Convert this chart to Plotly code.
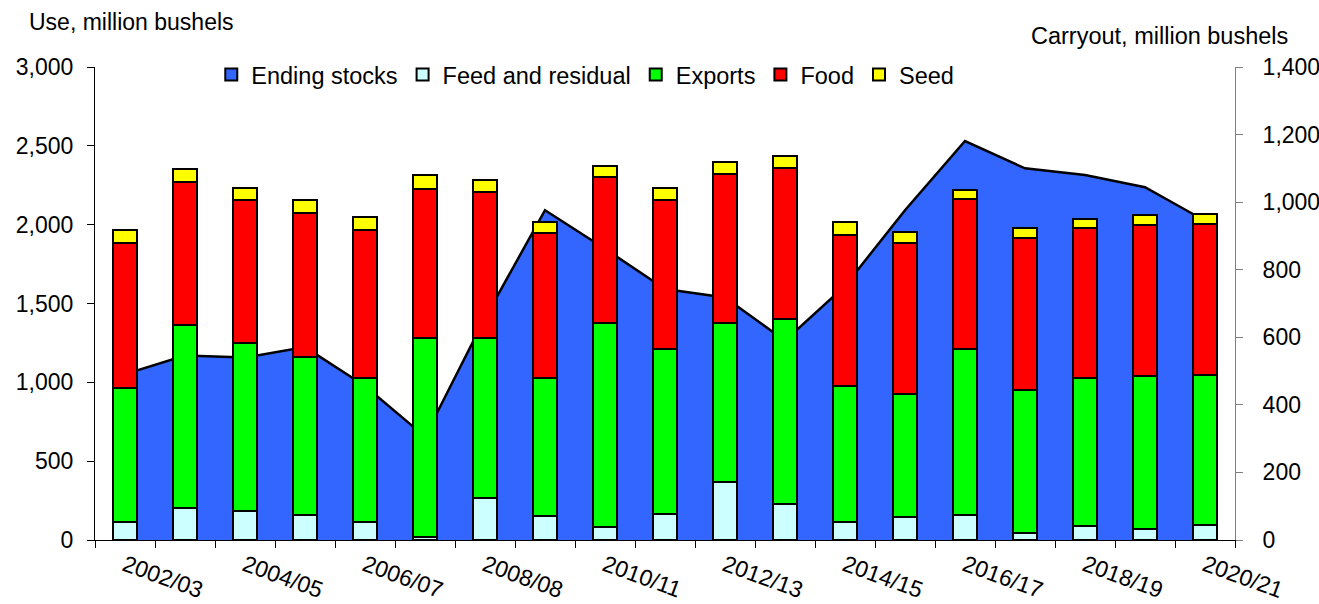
import plotly.graph_objects as go

years = ["2002/03", "2003/04", "2004/05", "2005/06", "2006/07", "2007/08", "2008/09",
         "2009/10", "2010/11", "2011/12", "2012/13", "2013/14", "2014/15", "2015/16",
         "2016/17", "2017/18", "2018/19", "2019/20", "2020/21"]
tick_labels = ["2002/03", "2004/05", "2006/07", "2008/08", "2010/11",
               "2012/13", "2014/15", "2016/17", "2018/19", "2020/21"]
feed = [116, 203, 181, 157, 117, 16, 265, 150, 85, 162, 365, 228, 113, 149, 161, 47, 88, 70, 95]
exports = [850, 1158, 1066, 1003, 909, 1263, 1015, 879, 1291, 1051, 1012, 1176, 864, 778, 1051, 906, 937, 969, 950]
food = [919, 912, 910, 917, 938, 948, 927, 919, 926, 941, 945, 955, 958, 957, 949, 964, 955, 962, 962]
seed = [84, 80, 78, 78, 82, 88, 78, 69, 71, 76, 73, 77, 79, 67, 61, 63, 59, 60, 60]
stocks = [491, 546, 540, 571, 456, 306, 657, 976, 862, 743, 718, 590, 752, 976, 1181, 1100, 1080, 1044, 945]

FONT = "Liberation Sans, Arial, sans-serif"
STOCK_COLOR = "#3366FF"
idx = list(range(len(years)))
tick_idx = [years.index(t) if t in years else years.index("2008/09") for t in tick_labels]

fig = go.Figure()
# ending stocks area (right axis, drawn underneath the bars)
fig.add_trace(go.Scatter(
    x=idx, y=stocks, name="Ending stocks", mode="lines", fill="tozeroy",
    fillcolor=STOCK_COLOR, line=dict(color="black", width=2.5), yaxis="y",
    hovertext=years, showlegend=False,
))
# legend key for the area (square swatch like the original)
fig.add_trace(go.Bar(
    x=[None], y=[None], name="Ending stocks", yaxis="y", legendrank=1,
    marker=dict(color=STOCK_COLOR, line=dict(color="black", width=2)),
))
bar_specs = [("Feed and residual", feed, "#CCFFFF"),
             ("Exports", exports, "#00FF00"),
             ("Food", food, "#FF0000"),
             ("Seed", seed, "#FFFF00")]
for k, (name, vals, col) in enumerate(bar_specs):
    fig.add_trace(go.Bar(
        x=idx, y=vals, name=name, yaxis="y2", width=0.4, legendrank=k + 2,
        marker=dict(color=col, line=dict(color="black", width=2)),
        hovertext=years,
    ))

fig.update_layout(
    width=1319, height=604, autosize=False,
    margin=dict(l=95, r=84, t=67, b=64),
    paper_bgcolor="white", plot_bgcolor="white",
    barmode="stack",
    font=dict(family=FONT, size=23, color="black"),
    showlegend=True,
    legend=dict(orientation="h", traceorder="normal", x=0.102, xanchor="left",
                y=1.03, yanchor="top", font=dict(size=23.5), bgcolor="rgba(0,0,0,0)",
                itemwidth=30),
    xaxis=dict(range=[-0.5, len(years) - 0.5], tickmode="array", tickvals=tick_idx,
               ticktext=tick_labels, ticks="", tickangle=20, showline=True,
               linecolor="black", linewidth=1, showgrid=False, zeroline=False,
               automargin=False, ticklabelstandoff=2,
               minor=dict(tickvals=[i - 0.5 for i in range(len(years) + 1)],
                          ticks="outside", ticklen=7, tickcolor="black", tickwidth=1,
                          showgrid=False),
               tickfont=dict(size=23)),
    yaxis=dict(side="right", range=[0, 1400], dtick=200, tickformat=",",
               ticks="outside", ticklen=7, tickcolor="#808080", showline=True,
               linecolor="#808080", linewidth=1, showgrid=False, zeroline=False,
               ticklabelstandoff=15, automargin=False),
    yaxis2=dict(side="left", overlaying="y", range=[0, 3000], dtick=500,
                tickformat=",", ticks="outside", ticklen=7, tickcolor="black",
                showline=True, linecolor="black", linewidth=1, showgrid=False,
                zeroline=False, ticklabelstandoff=9, automargin=False),
    annotations=[
        dict(text="Use, million bushels", x=(27 - 95) / 1140, xref="paper",
             xanchor="left", y=1.095, yref="paper", yanchor="middle",
             showarrow=False, font=dict(size=23)),
        dict(text="Carryout, million bushels", x=(1290 - 95) / 1140, xref="paper",
             xanchor="right", y=1.0655, yref="paper", yanchor="middle",
             showarrow=False, font=dict(size=23.5)),
    ],
)

fig.write_html("out.html")
